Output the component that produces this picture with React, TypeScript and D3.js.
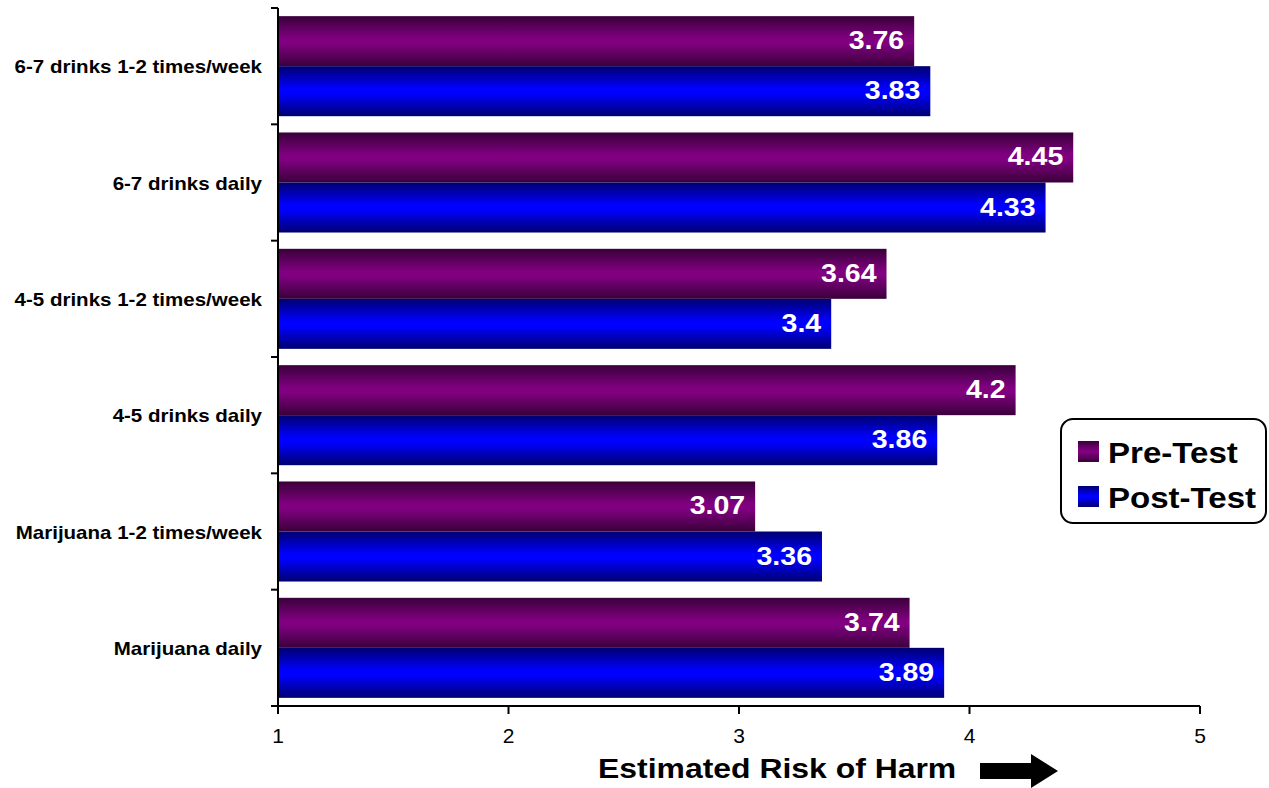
import React from "react";
import * as d3 from "d3";

const categories = [
  "6-7 drinks 1-2 times/week",
  "6-7 drinks daily",
  "4-5 drinks 1-2 times/week",
  "4-5 drinks daily",
  "Marijuana 1-2 times/week",
  "Marijuana daily",
];
const preTest = [3.76, 4.45, 3.64, 4.2, 3.07, 3.74];
const postTest = [3.83, 4.33, 3.4, 3.86, 3.36, 3.89];
const seriesNames = ["Pre-Test", "Post-Test"];
const xTicks = [1, 2, 3, 4, 5];

const W = 1269;
const H = 788;
const left = 278;
const right = 1200;
const top = 8;
const bottom = 706;
const font = "'Liberation Sans', Arial, sans-serif";
const SX = 1.14;

function T(props: { x: number; y: number; size: number; bold?: boolean; anchor?: string; fill?: string; sx?: number; children: React.ReactNode }) {
  const { x, y, size, bold, anchor, fill, sx, children } = props;
  return (
    <text
      transform={`translate(${x},${y}) scale(${sx ?? SX},1)`}
      textAnchor={anchor ?? "start"}
      fontSize={size}
      fontWeight={bold ? "bold" : "normal"}
      fill={fill ?? "#000"}
    >
      {children}
    </text>
  );
}

export default function App() {
  const x = d3.scaleLinear().domain([1, 5]).range([left, right]);
  const y = d3.scaleBand<string>().domain(categories).range([top, bottom]).paddingInner(0.14).paddingOuter(0.07);
  const band = (bottom - top) / categories.length;
  const barH = y.bandwidth() / 2;
  const series = [preTest, postTest];
  const grads = ["gPre", "gPost"];
  return (
    <svg width={W} height={H} style={{ position: "absolute", left: 0, top: 0 }} fontFamily={font}>
      <defs>
        <linearGradient id="gPre" x1="0" y1="0" x2="0" y2="1">
          <stop offset="0" stopColor="#3a003a" />
          <stop offset="0.45" stopColor="#800080" />
          <stop offset="0.55" stopColor="#800080" />
          <stop offset="1" stopColor="#3a003a" />
        </linearGradient>
        <linearGradient id="gPost" x1="0" y1="0" x2="0" y2="1">
          <stop offset="0" stopColor="#000070" />
          <stop offset="0.45" stopColor="#0000ff" />
          <stop offset="0.55" stopColor="#0000ff" />
          <stop offset="1" stopColor="#000070" />
        </linearGradient>
      </defs>
      <rect width={W} height={H} fill="#fff" />
      {categories.map((c, i) => (
        <g key={c}>
          {series.map((s, k) => {
            const y0 = (y(c) as number) + k * barH;
            return (
              <g key={k}>
                <rect x={x(1)} y={y0} width={x(s[i]) - x(1)} height={barH} fill={`url(#${grads[k]})`} />
                <T x={x(s[i]) - 10} y={y0 + barH / 2 + 8} anchor="end" fill="#fff" bold size={25}>
                  {String(s[i])}
                </T>
              </g>
            );
          })}
          <T x={262} y={(y(c) as number) + y.bandwidth() / 2 + 7} anchor="end" bold size={18}>
            {c}
          </T>
        </g>
      ))}
      {/* y axis */}
      <line x1={left} x2={left} y1={top} y2={bottom} stroke="#000" strokeWidth={2} />
      {d3.range(categories.length + 1).map((i) => (
        <line key={i} x1={left - 7} x2={left} y1={top + i * band} y2={top + i * band} stroke="#000" strokeWidth={2} />
      ))}
      {/* x axis */}
      <line x1={left - 7} x2={right} y1={bottom} y2={bottom} stroke="#000" strokeWidth={2} />
      {xTicks.map((t) => (
        <g key={t}>
          <line x1={x(t)} x2={x(t)} y1={bottom} y2={bottom + 8} stroke="#000" strokeWidth={2} />
          <T x={x(t)} y={743} anchor="middle" size={21} sx={1.0}>
            {t}
          </T>
        </g>
      ))}
      <T x={598} y={778} bold size={28}>
        Estimated Risk of Harm
      </T>
      <path d="M980,763 L1031,763 L1031,754 L1058,771 L1031,788 L1031,779 L980,779 Z" fill="#000" />
      {/* legend */}
      <rect x={1061} y={419} width={205} height={104} rx={12} ry={12} fill="#fff" stroke="#000" strokeWidth={2} />
      {seriesNames.map((n, k) => (
        <g key={n}>
          <rect x={1078} y={441 + k * 45} width={21} height={21} fill={`url(#${grads[k]})`} />
          <T x={1108} y={463 + k * 45} bold size={29}>
            {n}
          </T>
        </g>
      ))}
    </svg>
  );
}
